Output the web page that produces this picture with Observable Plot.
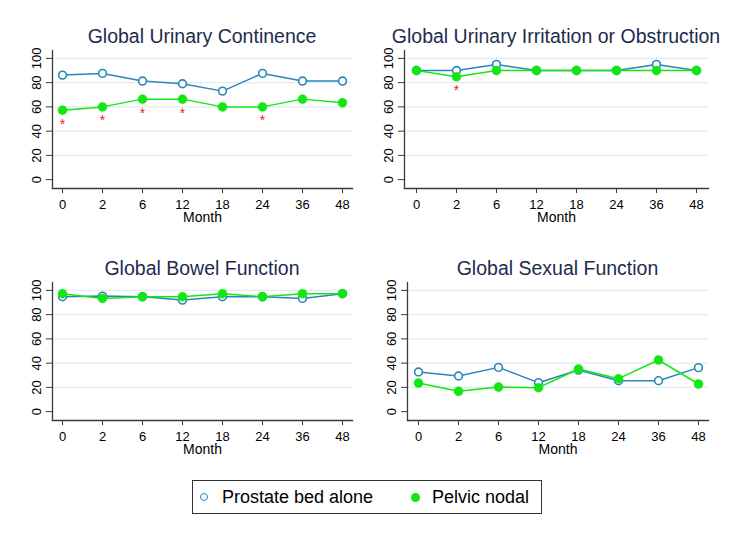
<!DOCTYPE html>
<html>
<head>
<meta charset="utf-8">
<script src="https://cdn.jsdelivr.net/npm/d3@7"></script>
<script src="https://cdn.jsdelivr.net/npm/@observablehq/plot@0.6"></script>
<style>
  body { margin: 0; background: #fff; }
  #chart { position: relative; width: 733px; height: 533px; background: #fff; font-family: "Liberation Sans", Arial, sans-serif; overflow: hidden; }
  .panel { position: absolute; }
  .title { position: absolute; white-space: nowrap; transform: translateX(-50%); font-size: 19.5px; line-height: 20px; color: #1e2b4d; }
  #legend { position: absolute; left: 192px; top: 480px; width: 348px; height: 32px; border: 1px solid #333; }
  .lg-text { position: absolute; font-size: 18px; line-height: 20px; color: #000; white-space: nowrap; }
  .lg-mark { position: absolute; border-radius: 50%; box-sizing: border-box; }
</style>
</head>
<body>
<div id="chart"></div>
<script>
// ---- data ----
const months = ["0", "2", "6", "12", "18", "24", "36", "48"];
const yTicks = [0, 20, 40, 60, 80, 100];
const gridTicks = [20, 40, 60, 80, 100];
const seriesNames = ["Prostate bed alone", "Pelvic nodal"];

const continenceBed   = [86.2, 87.6, 81.3, 79.1, 73.0, 87.6, 81.3, 81.3];
const continenceNodal = [57.3, 60.0, 66.4, 66.4, 60.0, 60.0, 66.4, 63.4];
const continenceStars = ["0", "2", "6", "12", "24"];

const irritationBed   = [90.0, 90.0, 95.0, 90.0, 90.0, 90.0, 95.0, 90.0];
const irritationNodal = [90.0, 84.8, 90.0, 90.0, 90.0, 90.0, 90.0, 90.0];
const irritationStars = ["2"];

const bowelBed   = [94.8, 95.3, 94.8, 92.0, 94.8, 94.8, 93.4, 97.3];
const bowelNodal = [97.3, 93.4, 94.8, 94.8, 97.3, 94.8, 97.3, 97.3];
const bowelStars = [];

const sexualBed   = [32.7, 29.4, 36.5, 23.9, 34.3, 25.5, 25.5, 36.3];
const sexualNodal = [23.6, 16.8, 20.3, 19.8, 35.2, 27.2, 42.6, 22.8];
const sexualStars = [];

const titles = ["Global Urinary Continence", "Global Urinary Irritation or Obstruction", "Global Bowel Function", "Global Sexual Function"];

// ---- styles ----
const blue = "#2a86b8";
const green = "#14e614";
const axisColor = "#3a3a3a";
const font = "\"Liberation Sans\", Arial, sans-serif";

const chart = document.getElementById("chart");

function panel(bed, nodal, stars, title, box) {
  const bedData = months.map((m, i) => ({month: m, value: bed[i]}));
  const nodalData = months.map((m, i) => ({month: m, value: nodal[i]}));
  const starData = stars.map(m => ({month: m, value: nodal[months.indexOf(m)]}));
  const plot = Plot.plot({
    width: box.width,
    height: 185,
    marginLeft: box.ml,
    marginRight: box.mr,
    marginTop: 5,
    marginBottom: 42,
    style: {fontFamily: font, background: "transparent", overflow: "visible"},
    x: {type: "point", domain: months, padding: 0.22},
    y: {domain: [-7.3, 106.5]},
    marks: [
      Plot.gridY(gridTicks, {stroke: "#e3ecf1", strokeOpacity: 1, strokeWidth: 1.2}),
      Plot.frame({anchor: "left", stroke: axisColor, strokeWidth: 1.3}),
      Plot.frame({anchor: "bottom", stroke: axisColor, strokeWidth: 1.3}),
      Plot.axisX(months, {tickSize: 5, tickPadding: 6, fontSize: 13, label: null, stroke: axisColor, fill: "#000"}),
      Plot.axisY(yTicks, {tickSize: 6, tickPadding: 6, tickRotate: -90, fontSize: 13, label: null, stroke: axisColor, fill: "#000"}),
      Plot.text(["Month"], {frameAnchor: "bottom", dy: 24, lineAnchor: "top", fontSize: 14, fill: "#000"}),
      Plot.line(bedData, {x: "month", y: "value", stroke: blue, strokeWidth: 1.5}),
      Plot.dot(bedData, {x: "month", y: "value", r: 3.9, fill: "white", stroke: blue, strokeWidth: 1.6}),
      Plot.line(nodalData, {x: "month", y: "value", stroke: green, strokeWidth: 1.5}),
      Plot.dot(nodalData, {x: "month", y: "value", r: 4.5, fill: green, stroke: green, strokeWidth: 0.5}),
      Plot.text(starData, {x: "month", y: "value", text: () => "*", dy: 14, fill: "#ee2222", fontSize: 14})
    ]
  });
  plot.classList.add("panel");
  plot.style.left = box.left + "px";
  plot.style.top = box.top + "px";
  chart.appendChild(plot);

  const t = document.createElement("div");
  t.className = "title";
  t.textContent = title;
  t.style.left = (box.left + box.ml + (box.width - box.ml - box.mr) / 2) + "px";
  t.style.top = (box.top - 19) + "px";
  chart.appendChild(t);
}

panel(continenceBed, continenceNodal, continenceStars, titles[0], {left: 0, top: 45, width: 366, ml: 52, mr: 14});
panel(irritationBed, irritationNodal, irritationStars, titles[1], {left: 366, top: 45, width: 367, ml: 38, mr: 25});
panel(bowelBed, bowelNodal, bowelStars, titles[2], {left: 0, top: 277, width: 366, ml: 52, mr: 14});
panel(sexualBed, sexualNodal, sexualStars, titles[3], {left: 366, top: 277, width: 367, ml: 41, mr: 25});

// ---- legend ----
const legend = document.createElement("div");
legend.id = "legend";
chart.appendChild(legend);
const items = [
  {name: seriesNames[0], markLeft: 7, textLeft: 29, style: `width:8px;height:8px;border:1.6px solid ${blue};background:#fff;`},
  {name: seriesNames[1], markLeft: 218, textLeft: 239, style: `width:9px;height:9px;background:${green};`}
];
items.forEach(it => {
  const m = document.createElement("div");
  m.className = "lg-mark";
  m.style.cssText += it.style;
  m.style.left = it.markLeft + "px";
  m.style.top = "12px";
  legend.appendChild(m);
  const s = document.createElement("div");
  s.className = "lg-text";
  s.textContent = it.name;
  s.style.left = it.textLeft + "px";
  s.style.top = "6px";
  legend.appendChild(s);
});
</script>
</body>
</html>
